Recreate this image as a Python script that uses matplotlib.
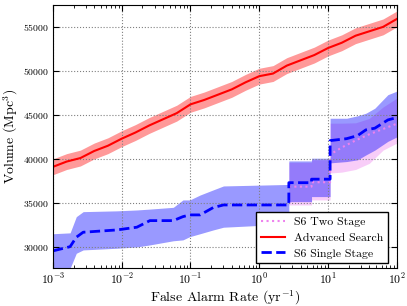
import numpy as np
import matplotlib
matplotlib.use('Agg')
import matplotlib.pyplot as plt

plt.rcParams['font.family'] = ['cmr10', 'DejaVu Serif']
plt.rcParams['mathtext.fontset'] = 'cm'
plt.rcParams['axes.unicode_minus'] = False
plt.rcParams['axes.formatter.use_mathtext'] = True

# Advanced search (log10 FAR, volume)
adv_logfar = [-3, -2.8, -2.6, -2.4, -2.2, -2, -1.8, -1.6, -1.4, -1.2, -1, -0.8, -0.6,
              -0.4, -0.2, 0, 0.2, 0.4, 0.6, 0.8, 1, 1.2, 1.4, 1.6, 1.8, 2]
adv_vol = [39100, 39700, 40100, 40900, 41500, 42300, 43000, 43800, 44500, 45200, 46200,
           46700, 47300, 47900, 48700, 49400, 49700, 50600, 51200, 51800, 52600, 53200,
           54000, 54500, 55000, 55900]
adv_err = [900] * len(adv_vol)

# S6 single stage
single_logfar = [-3, -2.75, -2.66, -2.56, -2.07, -1.78, -1.59, -1.25, -1.11, -1.01, -0.86,
                 -0.67, -0.52, 0.43, 0.43, 0.76, 0.76, 1.03, 1.03, 1.27, 1.43, 1.55,
                 1.68, 1.87, 2]
single_vol = [29550, 30030, 31100, 31670, 31930, 32240, 32990, 32990, 33440, 33640, 33640,
              34470, 34770, 34770, 37300, 37300, 37700, 37700, 42080, 42300, 42650, 43300,
              43490, 44430, 44700]
single_hi = [31500, 31600, 33440, 34010, 34100, 34200, 34300, 34500, 35340, 35340, 35900,
             36480, 36930, 37100, 39770, 39770, 40080, 40080, 44620, 44620, 44900, 45190,
             45760, 47300, 47700]
single_lo = [27580, 27580, 29280, 29660, 29850, 30000, 30230, 30700, 30800, 31170, 31500,
             31930, 32240, 32610, 35150, 35150, 35720, 35720, 39550, 39700, 39900, 40450,
             41000, 42000, 42500]

# S6 two stage
two_logfar = [0.43, 0.76, 0.76, 1.03, 1.03, 1.2, 1.4, 1.6, 1.8, 2]
two_vol = [36850, 36850, 37350, 37350, 40500, 41300, 42100, 42800, 43400, 44000]
two_hi = [39600, 39600, 39900, 39900, 44060, 44060, 44100, 44600, 45900, 46900]
two_lo = [34770, 34770, 35340, 35340, 38400, 38500, 38800, 39500, 41000, 41800]

fig = plt.figure(figsize=(4.07, 3.06), dpi=100)
ax = fig.add_axes([0.130, 0.124, 0.845, 0.860])

x_two = 10 ** np.array(two_logfar)
x_adv = 10 ** np.array(adv_logfar)
x_single = 10 ** np.array(single_logfar)

ax.fill_between(x_two, two_lo, two_hi, color='violet', alpha=0.4, lw=0)
ax.plot(x_two, two_vol, ':', color='violet', lw=1.5, label='S6 Two Stage')

ax.fill_between(x_adv, np.array(adv_vol) - adv_err, np.array(adv_vol) + adv_err,
                color='r', alpha=0.4, lw=0)
ax.plot(x_adv, adv_vol, '-', color='r', lw=1.5, label='Advanced Search')

ax.fill_between(x_single, single_lo, single_hi, color='b', alpha=0.4, lw=0)
ax.plot(x_single, single_vol, '--', color='b', lw=2, label='S6 Single Stage')

ax.set_xscale('log')
ax.set_xlim(1e-3, 1e2)
ax.set_ylim(27600, 57500)
ax.set_yticks([30000, 35000, 40000, 45000, 50000, 55000])

ax.set_xlabel('False Alarm Rate (yr$^{-1}$)', fontsize=10, labelpad=1)
ax.set_ylabel('Volume (Mpc$^3$)', fontsize=10, labelpad=2)

ax.tick_params(which='both', direction='in', top=True, right=True)
ax.tick_params(axis='y', labelsize=7)
ax.tick_params(axis='x', labelsize=8.5)
ax.tick_params(which='major', length=4, pad=3)
ax.tick_params(which='minor', length=2)
ax.grid(True, which='major', linestyle=':', color='gray', lw=0.8)

leg = ax.legend(loc='lower right', bbox_to_anchor=(0.975, 0.018), fontsize=8.5,
                fancybox=False, framealpha=1, edgecolor='black', borderaxespad=0,
                handlelength=2.0, labelspacing=0.45)
leg.get_frame().set_linewidth(1)

fig.savefig('out.png', dpi=100)
